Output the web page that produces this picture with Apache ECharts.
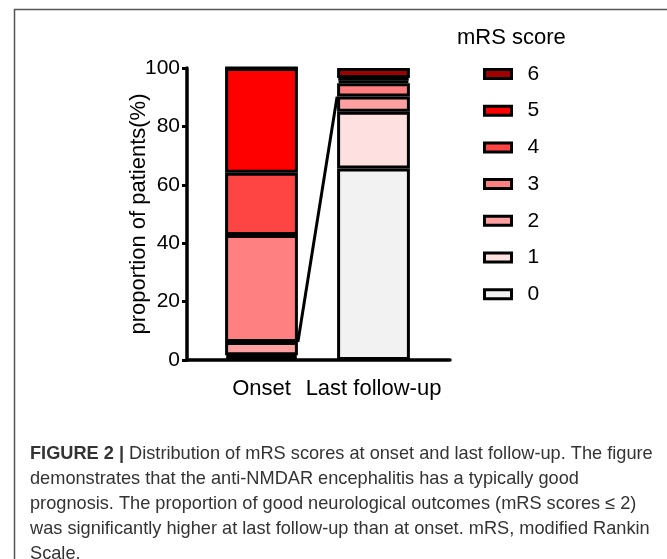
<!DOCTYPE html>
<html>
<head>
<meta charset="utf-8">
<script src="https://cdn.jsdelivr.net/npm/echarts@6/dist/echarts.min.js"></script>
<style>
  html, body { margin: 0; padding: 0; background: #fff; }
  #chart { width: 667px; height: 559px; }
</style>
</head>
<body>
<div id="chart"></div>
<script>
// ---- data (percent of patients) ----
const categories = ['Onset', 'Last follow-up'];
const scores = ['0', '1', '2', '3', '4', '5', '6'];
const onsetPct = [0.8, 0.8, 4.6, 36.6, 21.3, 35.9, 0];
const lastPct = [65.6, 19.4, 5.2, 4.6, 1.0, 0.8, 3.4];
const yTicks = [0, 20, 40, 60, 80, 100];
const legendTitle = 'mRS score';
const yAxisTitle = 'proportion of patients(%)';
const captionLines = [
  ['FIGURE 2 |', ' Distribution of mRS scores at onset and last follow-up. The figure'],
  ['', 'demonstrates that the anti-NMDAR encephalitis has a typically good'],
  ['', 'prognosis. The proportion of good neurological outcomes (mRS scores \u2264 2)'],
  ['', 'was significantly higher at last follow-up than at onset. mRS, modified Rankin'],
  ['', 'Scale.']
];

// ---- styles ----
const colors = ['#F2F2F2', '#FFE0E0', '#FFA0A0', '#FF8080', '#FF4444', '#FF0000', '#A00000'];
const FONT = 'Liberation Sans, Arial, sans-serif';
const barFrac = 0.65;

// cumulative share of good outcomes (mRS <= 2)
const good = (arr) => arr.slice(0, 3).reduce((a, b) => a + b, 0);
const connector = [
  [0 + barFrac / 2, good(onsetPct)],
  [1 - barFrac / 2, good(lastPct)]
];

const series = scores.map((s, i) => ({
  name: s,
  type: 'bar',
  stack: 'mrs',
  xAxisIndex: 0,
  yAxisIndex: 0,
  barWidth: (barFrac * 100) + '%',
  itemStyle: { color: colors[i], borderColor: '#000', borderWidth: 3 },
  emphasis: { disabled: true },
  data: [onsetPct[i], lastPct[i]]
}));
series.push({
  type: 'line',
  xAxisIndex: 2,
  yAxisIndex: 0,
  symbol: 'none',
  silent: true,
  lineStyle: { color: '#000', width: 3 },
  data: connector,
  z: 5
});

const captionText = captionLines.map(l => (l[0] ? '{b|' + l[0] + '}' : '') + '{n|' + l[1] + '}').join('\n');

const chart = echarts.init(document.getElementById('chart'), null, { renderer: 'canvas' });
chart.setOption({
  backgroundColor: '#fff',
  animation: false,
  graphic: [{
    type: 'rect',
    shape: { x: 14.5, y: 9.5, width: 900, height: 900 },
    style: { fill: 'none', stroke: '#555', lineWidth: 1.5 },
    silent: true
  }],
  title: [{
    text: legendTitle,
    left: 452, top: 22,
    textStyle: { fontFamily: FONT, fontSize: 22, fontWeight: 'normal', color: '#000' }
  }, {
    text: captionText,
    left: 25, top: 437,
    textStyle: {
      rich: {
        b: { fontFamily: FONT, fontSize: 18.2, fontWeight: 'bold', color: '#333', lineHeight: 24.8 },
        n: { fontFamily: FONT, fontSize: 18.2, fontWeight: 'normal', color: '#333', lineHeight: 24.8 }
      }
    }
  }],
  legend: {
    orient: 'vertical',
    left: 478, top: 58,
    data: scores.slice().reverse(),
    icon: 'rect',
    itemWidth: 27, itemHeight: 9,
    itemGap: 14.7,
    itemStyle: { borderColor: '#000', borderWidth: 3 },
    textStyle: { fontFamily: FONT, fontSize: 21, color: '#000', lineHeight: 22, padding: [0, 0, 0, 11] },
    selectedMode: false
  },
  grid: [
    { left: 205.5, width: 224, top: 68, height: 292, containLabel: false },
    { left: 187, width: 263, top: 68, height: 292, containLabel: false }
  ],
  xAxis: [{
    type: 'category', gridIndex: 0, data: categories,
    axisLine: { show: false }, axisTick: { show: false },
    axisLabel: { fontFamily: FONT, fontSize: 22, color: '#000', margin: 18, interval: 0 }
  }, {
    type: 'category', gridIndex: 1, data: ['', ''],
    axisLine: { lineStyle: { color: '#000', width: 3.5 } },
    axisTick: { inside: true, length: 6, interval: 0, lineStyle: { color: '#000', width: 3 } },
    axisLabel: { show: false }, z: 10
  }, {
    type: 'value', gridIndex: 0, min: -0.5, max: 1.5, show: false
  }],
  yAxis: [{
    type: 'value', gridIndex: 0, min: 0, max: 100, interval: 20, offset: 18.5,
    name: yAxisTitle, nameLocation: 'middle', nameGap: 37, nameMoveOverlap: false,
    nameTextStyle: { fontFamily: FONT, fontSize: 22, color: '#000' },
    axisLine: { show: true, onZero: false, lineStyle: { color: '#000', width: 3.5 } },
    axisTick: { show: true, length: 5, lineStyle: { color: '#000', width: 3 } },
    axisLabel: { fontFamily: FONT, fontSize: 21, color: '#000', margin: 7,
      formatter: v => (yTicks.indexOf(v) >= 0 ? String(v) : '') },
    splitLine: { show: false }
  }, {
    type: 'value', gridIndex: 1, min: 0, max: 100, show: false
  }],
  series: series
});
</script>
</body>
</html>
